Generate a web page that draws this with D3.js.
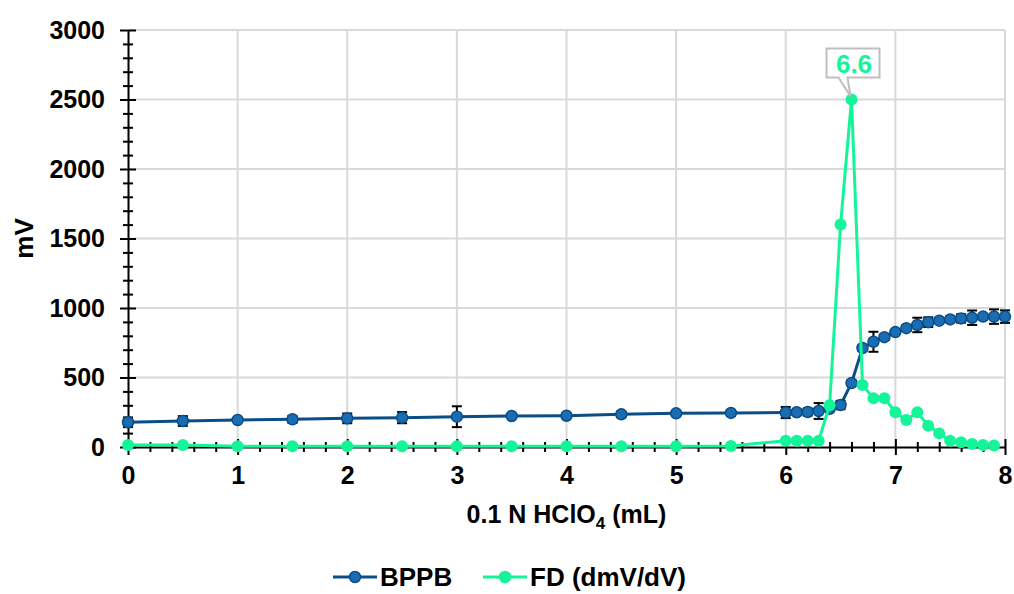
<!DOCTYPE html>
<html>
<head>
<meta charset="utf-8">
<script src="https://cdn.jsdelivr.net/npm/d3@7"></script>
<style>
    body { margin: 0; background: #fff; }
    text { font-family: "Liberation Sans", Arial, sans-serif; font-weight: bold; }
</style>
</head>
<body>
<svg id="chart" width="1014" height="594"></svg>
<script>
// titration data
const bppbX = [0, 0.5, 1, 1.5, 2, 2.5, 3, 3.5, 4, 4.5, 5, 5.5, 6, 6.1, 6.2, 6.3, 6.4, 6.5, 6.6, 6.7, 6.8, 6.9, 7.0, 7.1, 7.2, 7.3, 7.4, 7.5, 7.6, 7.7, 7.8, 7.9, 8.0];
const bppbY = [178, 187, 194, 199, 206, 211, 218, 223, 225, 235, 242, 245, 248, 250, 252, 259, 275, 302, 460, 712, 757, 790, 827, 855, 878, 898, 909, 918, 925, 930, 938, 938, 938];
const bppbErr = [35, 35, 10, 25, 35, 40, 75, 10, 10, 20, 10, 20, 40, 20, 25, 57, 20, 30, 20, 20, 72, 20, 10, 20, 52, 35, 15, 20, 30, 52, 20, 52, 45];

const fdX = [0, 0.5, 1, 1.5, 2, 2.5, 3, 3.5, 4, 4.5, 5, 5.5, 6, 6.1, 6.2, 6.3, 6.4, 6.5, 6.6, 6.7, 6.8, 6.9, 7.0, 7.1, 7.2, 7.3, 7.4, 7.5, 7.6, 7.7, 7.8, 7.9];
const fdY = [15, 15, 5, 5, 5, 5, 5, 5, 5, 5, 5, 8, 45, 45, 45, 45, 300, 1600, 2500, 446, 350, 350, 250, 194, 250, 153, 98, 45, 34, 22, 14, 10];

const xTicks = [0, 1, 2, 3, 4, 5, 6, 7, 8];
const yTicks = [0, 500, 1000, 1500, 2000, 2500, 3000];
const seriesNames = ["BPPB", "FD (dmV/dV)"];
const peakLabel = "6.6";

const BLUE_LINE = "#0b4d87";
const BLUE_FILL = "#1b6db3";
const GREEN = "#14f59a";

const margin = {top: 30, right: 9, bottom: 147, left: 128};
const width = 1014, height = 594;

const svg = d3.select("#chart");

const x = d3.scaleLinear().domain([0, 8]).range([margin.left, width - margin.right]);
const y = d3.scaleLinear().domain([0, 3000]).range([height - margin.bottom, margin.top]);

// grid
svg.append("g").selectAll("line").data(xTicks.slice(1))
    .join("line")
    .attr("x1", d => x(d)).attr("x2", d => x(d))
    .attr("y1", y(0)).attr("y2", y(3000))
    .attr("stroke", "#d9d9d9").attr("stroke-width", 2);
svg.append("g").selectAll("line").data(yTicks.slice(1))
    .join("line")
    .attr("x1", x(0)).attr("x2", x(8))
    .attr("y1", d => y(d)).attr("y2", d => y(d))
    .attr("stroke", "#d9d9d9").attr("stroke-width", 2);

// axes with cross ticks
function crossAxis(g, horizontal) {
    g.selectAll(".tick line").each(function() {
        const l = d3.select(this);
        if (horizontal) l.attr("y1", -8).attr("y2", 8);
        else l.attr("x1", -8).attr("x2", 8);
    });
    g.select(".domain").attr("stroke-width", 2);
    g.selectAll(".tick line").attr("stroke-width", 2);
}

const xMinor = d3.range(0, 8.01, 0.2).filter(v => Math.abs(v - Math.round(v)) > 0.01);
const yMinor = d3.range(0, 3001, 100).filter(v => v % 500 !== 0);

svg.append("g")
    .attr("transform", `translate(0,${y(0)})`)
    .call(d3.axisBottom(x).tickValues(xMinor).tickSize(0).tickFormat(""))
    .call(g => g.select(".domain").remove())
    .call(g => g.selectAll(".tick line").attr("y1", -5).attr("y2", 5).attr("stroke-width", 2).attr("stroke", "#000"));
svg.append("g")
    .attr("transform", `translate(${x(0)},0)`)
    .call(d3.axisLeft(y).tickValues(yMinor).tickSize(0).tickFormat(""))
    .call(g => g.select(".domain").remove())
    .call(g => g.selectAll(".tick line").attr("x1", -5).attr("x2", 5).attr("stroke-width", 2).attr("stroke", "#000"));

const xAxis = svg.append("g")
    .attr("transform", `translate(0,${y(0)})`)
    .call(d3.axisBottom(x).tickValues(xTicks).tickSizeOuter(0).tickPadding(13).tickFormat(d3.format("d")))
    .call(g => crossAxis(g, true));
xAxis.selectAll("text").attr("font-size", 25).attr("fill", "#000");

const yAxis = svg.append("g")
    .attr("transform", `translate(${x(0)},0)`)
    .call(d3.axisLeft(y).tickValues(yTicks).tickSizeOuter(0).tickPadding(17).tickFormat(d3.format("d")))
    .call(g => crossAxis(g, false));
yAxis.selectAll("text").attr("font-size", 25).attr("fill", "#000");

// axis titles
const xTitle = svg.append("text")
    .attr("x", (x(0) + x(8)) / 2).attr("y", 523)
    .attr("text-anchor", "middle").attr("font-size", 25);
xTitle.append("tspan").text("0.1 N HClO");
xTitle.append("tspan").attr("font-size", 17).attr("dy", 6).text("4");
xTitle.append("tspan").attr("dy", -6).text(" (mL)");

svg.append("text")
    .attr("transform", `translate(33,${(y(0) + y(3000)) / 2}) rotate(-90)`)
    .attr("text-anchor", "middle").attr("font-size", 26)
    .text("mV");

// BPPB series
const bppb = bppbX.map((v, i) => ({x: v, y: bppbY[i], e: bppbErr[i]}));
const fd = fdX.map((v, i) => ({x: v, y: fdY[i]}));

const line = d3.line().x(d => x(d.x)).y(d => y(d.y));

svg.append("path").datum(bppb)
    .attr("d", line).attr("fill", "none")
    .attr("stroke", BLUE_LINE).attr("stroke-width", 3);

const err = svg.append("g").attr("stroke", "#000").attr("stroke-width", 2);
err.selectAll(".eb").data(bppb).join("line")
    .attr("x1", d => x(d.x)).attr("x2", d => x(d.x))
    .attr("y1", d => y(d.y - d.e)).attr("y2", d => y(d.y + d.e));
err.selectAll(".top").data(bppb).join("line")
    .attr("x1", d => x(d.x) - 5).attr("x2", d => x(d.x) + 5)
    .attr("y1", d => y(d.y + d.e)).attr("y2", d => y(d.y + d.e));
err.selectAll(".bot").data(bppb).join("line")
    .attr("x1", d => x(d.x) - 5).attr("x2", d => x(d.x) + 5)
    .attr("y1", d => y(d.y - d.e)).attr("y2", d => y(d.y - d.e));

svg.append("g").selectAll("circle").data(bppb).join("circle")
    .attr("cx", d => x(d.x)).attr("cy", d => y(d.y)).attr("r", 5.5)
    .attr("fill", BLUE_FILL).attr("stroke", BLUE_LINE).attr("stroke-width", 1.5);

// FD series
svg.append("path").datum(fd)
    .attr("d", line).attr("fill", "none")
    .attr("stroke", GREEN).attr("stroke-width", 3);
svg.append("g").selectAll("circle").data(fd).join("circle")
    .attr("cx", d => x(d.x)).attr("cy", d => y(d.y)).attr("r", 6)
    .attr("fill", GREEN);

// peak callout
const peak = fd[d3.maxIndex(fd, d => d.y)];
const px = x(peak.x), py = y(peak.y);
const bx0 = px - 25, bx1 = px + 28, by0 = py - 51, by1 = py - 22;
svg.append("path")
    .attr("d", `M${bx0},${by0} H${bx1} V${by1} H${px - 4} L${px - 1},${py - 3} L${px - 13},${by1} H${bx0} Z`)
    .attr("fill", "#fff").attr("stroke", "#bfbfbf").attr("stroke-width", 2);
svg.append("text")
    .attr("x", (bx0 + bx1) / 2 + 1).attr("y", by1 - 5)
    .attr("text-anchor", "middle").attr("font-size", 26)
    .attr("fill", GREEN).text(peakLabel);

// legend
const legend = svg.append("g").attr("transform", "translate(333,577)");
const items = [
    {name: seriesNames[0], stroke: BLUE_LINE, fill: BLUE_FILL, dx: 0},
    {name: seriesNames[1], stroke: GREEN, fill: GREEN, dx: 150}
];
items.forEach(it => {
    const g = legend.append("g").attr("transform", `translate(${it.dx},0)`);
    g.append("line").attr("x1", 0).attr("x2", 44).attr("y1", 0).attr("y2", 0)
        .attr("stroke", it.stroke).attr("stroke-width", 3);
    g.append("circle").attr("cx", 22).attr("cy", 0).attr("r", 5.5)
        .attr("fill", it.fill).attr("stroke", it.stroke).attr("stroke-width", 1.5);
    g.append("text").attr("x", 47).attr("y", 9).attr("font-size", 26).attr("fill", "#000").text(it.name);
});
</script>
</body>
</html>
